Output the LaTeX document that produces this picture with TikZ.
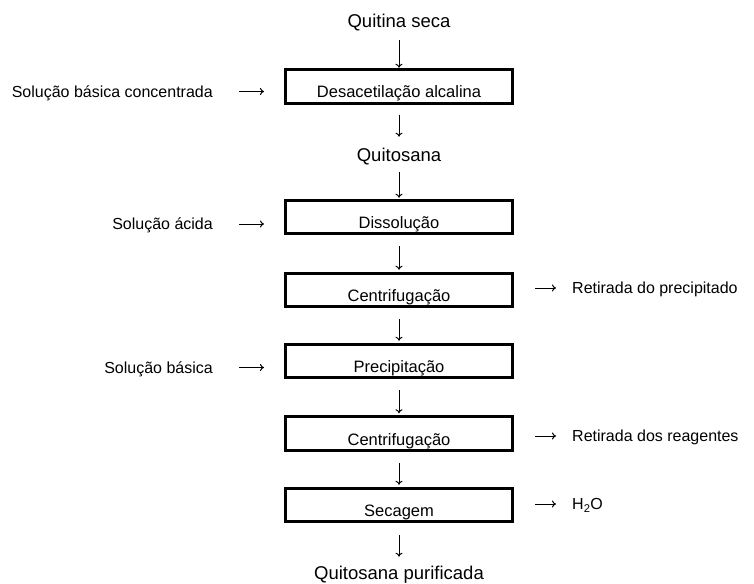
\documentclass[tikz,border=0pt]{standalone}
\usepackage{fontspec}
\setmainfont{Liberation Sans}
\usepackage{tikz}
\usetikzlibrary{arrows.meta}
\tikzset{etapa/.style={
         draw,line width=3pt,minimum width=227pt,minimum height=33.5pt,inner sep=0pt,
         font=\fontsize{16.5}{19}\selectfont,text height=23pt,text depth=0pt}}
\tikzset{produto/.style={
         inner sep=0pt,font=\fontsize{18.5}{22}\selectfont,text height=13.2pt,text depth=0pt}}
\tikzset{rotulo/.style={
         inner sep=0pt,font=\fontsize{16}{19}\selectfont,text height=11.5pt,text depth=0pt}}
\tikzset{seta/.style={
         line width=1pt,-{To[length=4pt,width=7pt]},shorten <=11pt,shorten >=2pt}}

\begin{document}
\begin{tikzpicture}[x=1pt,y=-1pt]
\useasboundingbox (0,0) rectangle (754,583);

% produtos e etapas
\node (q0) at (399,21.3) [produto] {Quitina seca};
\node (e1) at (399,86.5) [etapa] {Desacetilação alcalina};
\node (q1) at (399,154.5) [produto] {Quitosana};
\node (e2) at (399,217) [etapa] {Dissolução};
\node (e3) at (399,290) [etapa] {Centrifugação};
\node (e4) at (399,361) [etapa] {Precipitação};
\node (e5) at (399,433.5) [etapa] {Centrifugação};
\node (e6) at (399,505) [etapa] {Secagem};
\node (q2) at (399,572.5) [produto] {Quitosana purificada};

\draw [seta,shorten <=12pt,shorten >=0.5pt] (q0) -- (e1);
\draw [seta,shorten <=10pt,shorten >=11pt] (e1) -- (q1);
\draw [seta,shorten >=1pt] (q1) -- (e2);
\foreach \a/\b in {e2/e3,e3/e4,e4/e5,e5/e6} {\draw [seta] (\a) -- (\b);}
\draw [seta,shorten <=12pt,shorten >=9pt] (e6) -- (q2);

% entradas
\node (s1) at (213,91.5) [rotulo,anchor=east] {Solução básica concentrada};
\node (s2) at (213,224) [rotulo,anchor=east] {Solução ácida};
\node (s3) at (213,367.5) [rotulo,anchor=east] {Solução básica};
\foreach \s/\e in {s1/e1,s2/e2,s3/e4} {\draw [seta,shorten <=26pt,shorten >=20pt] (\s) -- (\s -| \e.west);}

% saidas
\node (r1) at (572,288) [rotulo,anchor=west] {Retirada do precipitado};
\node (r2) at (572,436) [rotulo,anchor=west] {Retirada dos reagentes};
\node (r3) at (572,504) [rotulo,anchor=west] {H\textsubscript{2}O};
\foreach \r/\e in {r1/e3,r2/e5,r3/e6} {\draw [seta,shorten <=21pt,shorten >=16pt] (\r -| \e.east) -- (\r);}

\end{tikzpicture}
\end{document}
